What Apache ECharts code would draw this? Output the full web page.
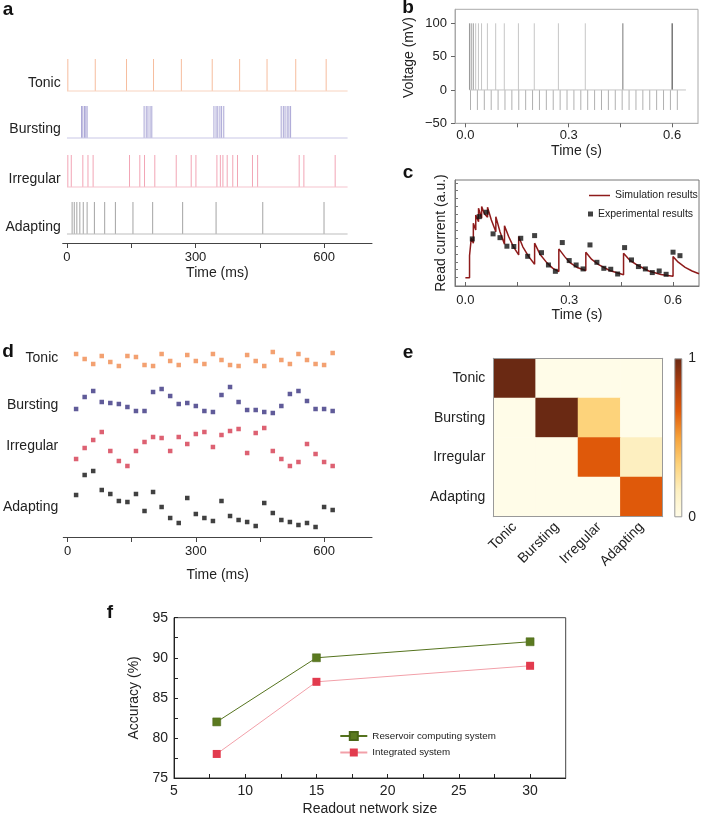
<!DOCTYPE html>
<html lang="en">
<head>
<meta charset="UTF-8">
<script src="https://cdn.jsdelivr.net/npm/echarts@6/dist/echarts.min.js"></script>
<title>Spiking patterns and reservoir computing</title>
<style>
  body { margin: 0; background: #fff; }
  #chart { width: 701px; height: 817px; }
</style>
</head>
<body>
<div id="chart"></div>
<script>
// ---- data ----
const patterns = ['Tonic', 'Bursting', 'Irregular', 'Adapting'];

// a: spike times (ms)
const tonicSpikes = [2, 66, 139, 202, 267, 339, 403, 467, 534, 605];
const burstingSpikes = [34, 37, 41, 44, 47, 180, 185, 189, 194, 198, 343, 348, 352, 357, 361, 366, 500, 505, 509, 514, 518, 522];
const irregularSpikes = [2, 10, 37, 49, 61, 146, 170, 181, 205, 255, 290, 301, 350, 358, 364, 374, 387, 398, 433, 445, 542, 553, 626];
const adaptingSpikes = [12, 17, 23, 30, 38, 47, 64, 88, 113, 154, 200, 270, 348, 457, 600];

// b: input pulses (s), spike amplitude and pulse depth (mV)
const inputPulses = [0.015, 0.035, 0.055, 0.075, 0.095, 0.115, 0.135, 0.155, 0.175, 0.195, 0.215, 0.235, 0.255, 0.275, 0.295, 0.315,
    0.335, 0.355, 0.375, 0.395, 0.415, 0.435, 0.455, 0.475, 0.495, 0.515, 0.535, 0.555, 0.575, 0.595, 0.615];
const spikeVoltage = 100;
const pulseVoltage = -30;

// c: simulated read current [time (s), current (a.u.)]
const simCurve = [
    [0, 0], [0.012, 0], [0.012, 1.39], [0.017, 1.33], [0.017, 2.49], [0.023, 2.18], [0.023, 3.44], [0.030, 3.02], [0.030, 3.97],
    [0.038, 3.54], [0.038, 4.39], [0.047, 3.76], [0.047, 4.50], [0.055, 4.05], [0.064, 3.82], [0.064, 4.46], [0.075, 3.65],
    [0.088, 2.91], [0.088, 3.86], [0.100, 2.90], [0.113, 2.11], [0.113, 3.29], [0.125, 2.60], [0.139, 1.95], [0.154, 1.44],
    [0.154, 2.60], [0.166, 1.95], [0.183, 1.33], [0.200, 0.85], [0.200, 2.18], [0.215, 1.50], [0.235, 0.95], [0.252, 0.60],
    [0.270, 0.38], [0.270, 1.82], [0.287, 1.33], [0.301, 0.97], [0.325, 0.62], [0.348, 0.45], [0.348, 1.61], [0.365, 1.15],
    [0.385, 0.82], [0.417, 0.45], [0.457, 0.18], [0.457, 1.54], [0.475, 1.10], [0.500, 0.75], [0.530, 0.42], [0.565, 0.20],
    [0.600, 0.08], [0.600, 1.33], [0.615, 0.98], [0.635, 0.65], [0.655, 0.42], [0.675, 0.25]
];
// sampling times (ms) for c and d
const sampleTimes = [20, 40, 60, 80, 100, 120, 140, 160, 180, 200, 220, 240, 260, 280, 300, 320,
    340, 360, 380, 400, 420, 440, 460, 480, 500, 520, 540, 560, 580, 600, 620];
const expCurrent = [2.45, 3.86, 4.14, 2.77, 2.53, 1.99, 1.97, 2.49, 1.35, 2.66, 1.58, 0.80, 0.40, 2.22, 1.08, 0.80,
    0.55, 2.07, 0.97, 0.59, 0.53, 0.23, 1.90, 1.12, 0.70, 0.55, 0.32, 0.42, 0.21, 1.61, 1.39];

// d: reservoir states (a.u., stacked by row)
const tonicStates = [183, 178, 173, 181, 175, 171, 181, 180, 172, 171, 183, 176, 172, 182, 176, 173, 183, 177, 172, 171, 182, 176, 171, 185, 177, 173, 183, 177, 173, 172, 184];
const burstingStates = [128, 140, 146, 135, 134, 133, 130, 126, 126, 145, 148, 141, 133, 134, 131, 126, 125, 142, 150, 135, 127, 127, 125, 124, 131, 143, 146, 136, 128, 128, 126];
const irregularStates = [78, 89, 97, 105, 86, 76, 71, 86, 95, 100, 99, 86, 100, 93, 103, 105, 90, 102, 106, 108, 84, 104, 109, 86, 78, 71, 75, 93, 83, 75, 71];
const adaptingStates = [42, 62, 66, 47, 43, 36, 35, 43, 26, 45, 30, 19, 14, 39, 23, 19, 16, 36, 21, 17, 15, 11, 34, 24, 17, 15, 12, 14, 10, 30, 27];

// e: confusion matrix, rows = actual (top to bottom), cols = predicted
const confusion = [
    [1, 0, 0, 0],
    [0, 1, 0.33, 0],
    [0, 0, 0.67, 0.17],
    [0, 0, 0, 0.67]
];

// f: accuracy vs readout size
const readoutSizes = [8, 15, 30];
const reservoirAcc = [82, 90, 92];
const integratedAcc = [78, 87, 89];

// ---- layout / style ----
const FONT = '"Liberation Sans", Arial, Helvetica, sans-serif';
const TXT = '#222';
const rowBaseA = [152, 105, 56, 9];      // baseline of each row in panel a
const spikeLenA = 32;
const labelPosA = [160, 114, 64, 16];
const labelPosD = [179, 132, 91, 30];
const rowColorsA = ['#f6bd9e', '#a9a5d5', '#f2a5b5', '#a4a4a4'];
const baseColorsA = ['#f8d3bf', '#c9c7e6', '#f5c3cd', '#bdbdbd'];
const stateColors = ['#f08a4e', '#38327f', '#d5394f', '#111111'];
const heatColors = ['#fffce8', '#fdf0c1', '#fdd27a', '#f6a23a', '#e05a0a', '#ad3e0f', '#6a2913'];

const spikeTrainsA = [tonicSpikes, burstingSpikes, irregularSpikes, adaptingSpikes];
const statesD = [tonicStates, burstingStates, irregularStates, adaptingStates];

function spikeSeries(xi, yi, rows, color, width) {
    return {
        type: 'custom', xAxisIndex: xi, yAxisIndex: yi, silent: true,
        encode: { x: 0, y: [1, 2] },
        data: rows,
        renderItem: (params, api) => {
            const p0 = api.coord([api.value(0), api.value(1)]);
            const p1 = api.coord([api.value(0), api.value(2)]);
            const c = typeof color === 'function' ? color(params.dataIndex) : color;
            return { type: 'line', shape: { x1: p0[0], y1: p0[1], x2: p1[0], y2: p1[1] }, style: { stroke: c, lineWidth: width } };
        }
    };
}

const series = [];

// panel a
spikeTrainsA.forEach((train, i) => {
    series.push({
        type: 'line', xAxisIndex: 0, yAxisIndex: 0, symbol: 'none', silent: true,
        lineStyle: { color: baseColorsA[i], width: 1 },
        data: [[0, rowBaseA[i]], [655, rowBaseA[i]]]
    });
    series.push(spikeSeries(0, 0, train.map(t => [t, rowBaseA[i], rowBaseA[i] + spikeLenA]), rowColorsA[i], 1));
});

// panel b
series.push({
    type: 'line', xAxisIndex: 1, yAxisIndex: 1, symbol: 'none', silent: true,
    lineStyle: { color: '#c4c4c4', width: 1 },
    data: [[0.012, 0], [0.64, 0]]
});
series.push(spikeSeries(1, 1, inputPulses.map(t => [t, 0, pulseVoltage]), '#b0b0b0', 1));
series.push(spikeSeries(1, 1, adaptingSpikes.map(t => [t / 1000, 0, spikeVoltage]),
    idx => idx === adaptingSpikes.length - 1 ? '#333' : (idx === adaptingSpikes.length - 2 ? '#777' : (idx < 3 ? '#999' : '#c6c6c6')), 1));

// panel c
series.push({
    name: 'Simulation results', type: 'line', xAxisIndex: 2, yAxisIndex: 2, symbol: 'none',
    lineStyle: { color: '#8e1b1b', width: 1.5 }, itemStyle: { color: '#8e1b1b' },
    data: simCurve
});
series.push({
    name: 'Experimental results', type: 'scatter', xAxisIndex: 2, yAxisIndex: 2, symbol: 'rect', symbolSize: 5,
    itemStyle: { color: '#111' }, z: 3,
    data: sampleTimes.map((t, i) => [t / 1000, expCurrent[i]])
});

// panel d
statesD.forEach((vals, i) => {
    series.push({
        type: 'scatter', xAxisIndex: 3, yAxisIndex: 3, symbol: 'rect', symbolSize: 4.5, silent: true,
        itemStyle: { color: stateColors[i] },
        data: sampleTimes.map((t, k) => [t, vals[k]])
    });
});

// panel e
const heatData = [];
confusion.forEach((row, y) => row.forEach((v, x) => heatData.push([x, y, v])));
const heatIndex = series.length;
series.push({ type: 'heatmap', xAxisIndex: 4, yAxisIndex: 4, data: heatData, silent: true });
series.push({
    type: 'bar', xAxisIndex: 6, yAxisIndex: 6, barWidth: '100%', silent: true,
    itemStyle: {
        borderColor: '#999', borderWidth: 1,
        color: { type: 'linear', x: 0, y: 1, x2: 0, y2: 0,
            colorStops: heatColors.map((c, i) => ({ offset: i / (heatColors.length - 1), color: c })) }
    },
    data: [1]
});

// panel f
series.push({
    name: 'Reservoir computing system', type: 'line', xAxisIndex: 7, yAxisIndex: 7, symbol: 'rect', symbolSize: 8,
    itemStyle: { color: '#5b7a20', borderColor: '#4a6618', borderWidth: 0.5 }, lineStyle: { color: '#55731e', width: 1 },
    data: readoutSizes.map((s, i) => [s, reservoirAcc[i]])
});
series.push({
    name: 'Integrated system', type: 'line', xAxisIndex: 7, yAxisIndex: 7, symbol: 'rect', symbolSize: 8,
    itemStyle: { color: '#e23b4e' }, lineStyle: { color: '#f2a0a9', width: 1 },
    data: readoutSizes.map((s, i) => [s, integratedAcc[i]])
});

const noSplit = { show: false };
const lbl = (extra) => Object.assign({ color: TXT, fontSize: 13, fontFamily: FONT }, extra);
const nameStyle = { color: TXT, fontSize: 14, fontFamily: FONT };

const timeMsAxis = (gi, gap) => ({
    gridIndex: gi, type: 'value', min: -10, max: 712, splitLine: noSplit,
    axisLine: { onZero: false, lineStyle: { color: '#444' } },
    axisTick: { customValues: [0, 150, 300, 450, 600], length: 5, lineStyle: { color: '#444' } },
    axisLabel: lbl({ customValues: [0, 300, 600], margin: 8 }),
    name: 'Time (ms)', nameLocation: 'middle', nameGap: gap, nameTextStyle: nameStyle
});
const rowLabelAxis = (gi, pos, margin) => ({
    gridIndex: gi, type: 'value', min: 0, max: 190, splitLine: noSplit,
    axisLine: { show: false, onZero: false }, axisTick: { show: false },
    axisLabel: lbl({ customValues: pos, fontSize: 14, margin: margin, formatter: v => patterns[pos.indexOf(v)] })
});
const timeSAxis = (gi, color, inside, gap, margin) => ({
    gridIndex: gi, type: 'value', min: -0.03, max: 0.675, splitLine: noSplit,
    axisLine: { onZero: false, lineStyle: { color: color } },
    axisTick: { customValues: [0, 0.15, 0.3, 0.45, 0.6], inside: inside, length: 4, lineStyle: { color: '#666' } },
    axisLabel: lbl({ customValues: [0, 0.3, 0.6], margin: margin, formatter: v => v.toFixed(1) }),
    name: 'Time (s)', nameLocation: 'middle', nameGap: gap, nameTextStyle: nameStyle
});

const option = {
    animation: false,
    textStyle: { fontFamily: FONT },
    grid: [
        { left: 62.7, top: 53, width: 309.3, height: 190 },
        { left: 455, top: 9.3, width: 243, height: 114, show: true, borderColor: '#aaa', borderWidth: 1 },
        { left: 455, top: 180, width: 244, height: 106, show: true, borderColor: '#777', borderWidth: 1 },
        { left: 62.7, top: 347, width: 309.3, height: 190 },
        { left: 493.3, top: 358.3, width: 169.4, height: 158.4 },
        { left: 674.3, top: 358.3, width: 8, height: 159 },
        { left: 174, top: 617.7, width: 391.7, height: 163, show: true, borderColor: '#444', borderWidth: 1 }
    ],
    visualMap: [{
        type: 'continuous', show: false, min: 0, max: 1, seriesIndex: heatIndex,
        inRange: { color: heatColors }
    }],
    xAxis: [
        timeMsAxis(0, 23),
        timeSAxis(1, '#aaa', false, 21, 6),
        timeSAxis(2, '#777', true, 22, 8),
        timeMsAxis(3, 31),
        {
            gridIndex: 4, type: 'category', data: patterns, z: 10,
            axisLine: { lineStyle: { color: '#999' } },
            axisTick: { alignWithLabel: true, length: 3, lineStyle: { color: '#777' } },
            axisLabel: lbl({ fontSize: 14, rotate: 45, margin: 8, interval: 0 })
        },
        {
            gridIndex: 4, type: 'category', data: patterns, position: 'top', z: 10,
            axisLine: { lineStyle: { color: '#999' } }, axisTick: { show: false }, axisLabel: { show: false }
        },
        { gridIndex: 5, type: 'category', data: ['scale'], show: false },
        {
            gridIndex: 6, type: 'value', min: 5, max: 32.5, splitLine: noSplit,
            axisLine: { onZero: false, lineStyle: { color: '#222' } },
            axisTick: { customValues: [5, 7.5, 10, 12.5, 15, 17.5, 20, 22.5, 25, 27.5, 30], inside: true, length: 4, lineStyle: { color: '#222' } },
            axisLabel: lbl({ customValues: [5, 10, 15, 20, 25, 30], fontSize: 14, margin: 6 }),
            name: 'Readout network size', nameLocation: 'middle', nameGap: 24, nameTextStyle: nameStyle
        }
    ],
    yAxis: [
        rowLabelAxis(0, labelPosA, 2),
        {
            gridIndex: 1, type: 'value', min: -50, max: 121, splitLine: noSplit,
            axisLine: { onZero: false, lineStyle: { color: '#aaa' } },
            axisTick: { customValues: [-50, 0, 50, 100], length: 4, lineStyle: { color: '#666' } },
            axisLabel: lbl({ customValues: [-50, 0, 50, 100], margin: 8, formatter: v => v < 0 ? '\u2212' + (-v) : String(v) })
        },
        {
            gridIndex: 2, type: 'value', min: -0.53, max: 6.18, splitLine: noSplit,
            axisLine: { onZero: false, lineStyle: { color: '#777' } },
            axisTick: { customValues: [0, 0.5, 1, 1.5, 2, 2.5, 3, 3.5, 4, 4.5, 5, 5.5, 6], inside: true, length: 3, lineStyle: { color: '#777' } },
            axisLabel: { show: false },
            name: 'Read current (a.u.)', nameLocation: 'middle', nameGap: 7, nameTextStyle: nameStyle
        },
        rowLabelAxis(3, labelPosD, 5),
        {
            gridIndex: 4, type: 'category', data: patterns, inverse: true, z: 10,
            axisLine: { lineStyle: { color: '#999' } },
            axisTick: { alignWithLabel: true, length: 3, lineStyle: { color: '#777' } },
            axisLabel: lbl({ fontSize: 14, margin: 8 })
        },
        {
            gridIndex: 4, type: 'category', data: patterns, inverse: true, position: 'right', z: 10,
            axisLine: { lineStyle: { color: '#999' } }, axisTick: { show: false }, axisLabel: { show: false }
        },
        {
            gridIndex: 5, type: 'value', min: 0, max: 1, position: 'right', splitLine: noSplit,
            axisLine: { show: false },
            axisTick: { customValues: [0.2, 0.4, 0.6, 0.8], inside: true, length: 2, lineStyle: { color: '#999' } },
            axisLabel: lbl({ customValues: [0, 1], fontSize: 14, margin: 6 })
        },
        {
            gridIndex: 6, type: 'value', min: 75, max: 95, splitLine: noSplit,
            axisLine: { onZero: false, lineStyle: { color: '#222' } },
            axisTick: { customValues: [75, 77.5, 80, 82.5, 85, 87.5, 90, 92.5, 95], inside: true, length: 4, lineStyle: { color: '#222' } },
            axisLabel: lbl({ customValues: [75, 80, 85, 90, 95], fontSize: 14, margin: 6 }),
            name: 'Accuracy (%)', nameLocation: 'middle', nameGap: 29, nameTextStyle: nameStyle
        }
    ],
    legend: [
        {
            data: [{ name: 'Simulation results', icon: 'rect' }], left: 589, top: 190, padding: 0,
            itemWidth: 21, itemHeight: 1.5, textStyle: { fontSize: 10.5, color: TXT, fontFamily: FONT }
        },
        {
            data: [{ name: 'Experimental results', icon: 'rect' }], left: 588, top: 208.5, padding: 0,
            itemWidth: 5, itemHeight: 5, textStyle: { fontSize: 10.5, color: TXT, fontFamily: FONT }
        },
        {
            data: ['Reservoir computing system', 'Integrated system'], left: 339.3, top: 731, padding: 0,
            orient: 'vertical', itemWidth: 27, itemHeight: 10, itemGap: 6.5,
            textStyle: { fontSize: 9.8, color: TXT, fontFamily: FONT }
        }
    ],
    graphic: [
        ['a', 8, 10], ['b', 408, 8], ['c', 408, 173], ['d', 8, 352], ['e', 408, 353], ['f', 110, 613]
    ].map(([t, x, y]) => ({
        type: 'text', silent: true,
        style: { text: t, x: x, y: y, font: 'bold 19px ' + FONT, fill: '#111', align: 'center', verticalAlign: 'middle', textAlign: 'center', textVerticalAlign: 'middle' }
    })).concat([{
        type: 'text', silent: true, x: 409, y: 57.5, rotation: Math.PI / 2,
        style: { text: 'Voltage (mV)', x: 0, y: 0, font: '14px ' + FONT, fill: TXT, align: 'center', verticalAlign: 'middle', textAlign: 'center', textVerticalAlign: 'middle' }
    }]),
    series: series
};

const chart = echarts.init(document.getElementById('chart'), null, { renderer: 'canvas' });
chart.setOption(option);
</script>
</body>
</html>
